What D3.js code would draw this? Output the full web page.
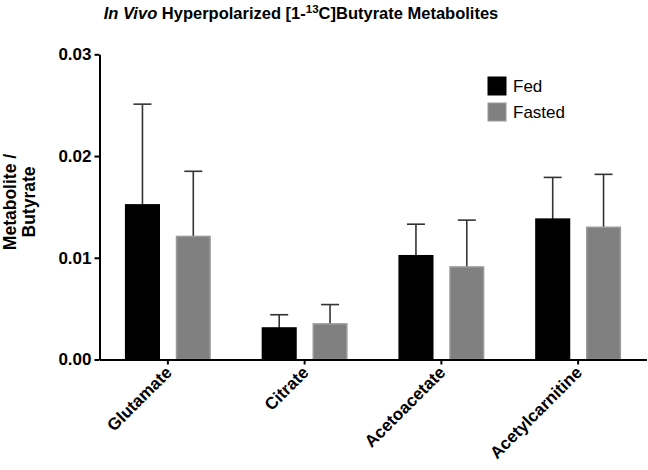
<!DOCTYPE html>
<html>
<head>
<meta charset="utf-8">
<script src="https://cdn.jsdelivr.net/npm/d3@7"></script>
<style>
  html, body { margin: 0; padding: 0; background: #fff; }
  svg { display: block; }
  text { font-family: "Liberation Sans", Arial, Helvetica, sans-serif; }
</style>
</head>
<body>
<svg id="chart" width="648" height="470"></svg>
<script>
const categories = ["Glutamate", "Citrate", "Acetoacetate", "Acetylcarnitine"];
const seriesNames = ["Fed", "Fasted"];
const fedValues = [0.0152, 0.0031, 0.0102, 0.0138];
const fedErrors = [0.0099, 0.0013, 0.0031, 0.0041];
const fastedValues = [0.0121, 0.0035, 0.0091, 0.0130];
const fastedErrors = [0.0064, 0.0019, 0.0046, 0.0052];
const yTicks = [0, 0.01, 0.02, 0.03];
const yTickLabels = ["0.00", "0.01", "0.02", "0.03"];

const colors = { Fed: "#000000", Fasted: "#808080" };
const strokes = { Fed: "#000000", Fasted: "#9a9a9a" };

const svg = d3.select("#chart");
const mLeft = 99.5, mRight = 646.5, mTop = 54.3, mBottom = 359.5;

const x0 = d3.scaleBand().domain(categories).range([mLeft, mRight]).padding(0);
const x1 = d3.scaleBand().domain(seriesNames).range([0, x0.bandwidth()])
  .paddingInner(0.31).paddingOuter(0.5);
const y = d3.scaleLinear().domain([0, 0.03]).range([mBottom, mTop]);

const data = [];
categories.forEach((c, i) => {
  data.push({ cat: c, s: "Fed", v: fedValues[i], e: fedErrors[i] });
  data.push({ cat: c, s: "Fasted", v: fastedValues[i], e: fastedErrors[i] });
});

// error bars (drawn behind bars)
const eb = svg.append("g");
data.forEach(d => {
  const cx = x0(d.cat) + x1(d.s) + x1.bandwidth() / 2;
  eb.append("line").attr("x1", cx).attr("x2", cx)
    .attr("y1", y(d.v)).attr("y2", y(d.v + d.e))
    .attr("stroke", "#333").attr("stroke-width", 1.6);
  eb.append("line").attr("x1", cx - 9).attr("x2", cx + 9)
    .attr("y1", y(d.v + d.e)).attr("y2", y(d.v + d.e))
    .attr("stroke", "#333").attr("stroke-width", 1.6);
});

// bars
svg.append("g").selectAll("rect").data(data).join("rect")
  .attr("x", d => x0(d.cat) + x1(d.s) + 0.75)
  .attr("y", d => y(d.v))
  .attr("width", x1.bandwidth() - 1.5)
  .attr("height", d => y(0) - y(d.v))
  .attr("fill", d => colors[d.s])
  .attr("stroke", d => strokes[d.s])
  .attr("stroke-width", 1.5);

// y axis
const yAxis = d3.axisLeft(y).tickValues(yTicks)
  .tickFormat((d, i) => yTickLabels[i]).tickSize(5).tickSizeOuter(0);
const gy = svg.append("g").attr("transform", `translate(${mLeft},0)`).call(yAxis);
gy.select(".domain").attr("stroke", "#000").attr("stroke-width", 2);
gy.selectAll(".tick line").attr("stroke", "#000").attr("stroke-width", 2);
gy.selectAll(".tick text").attr("font-size", 17).attr("font-weight", "bold")
  .attr("fill", "#000").attr("x", -8)
  .style("font-family", "'Liberation Sans', Arial, sans-serif");

// x axis
const xAxis = d3.axisBottom(x0).tickSize(5).tickSizeOuter(0);
const gx = svg.append("g").attr("transform", `translate(0,${mBottom})`).call(xAxis);
gx.select(".domain").attr("stroke", "#000").attr("stroke-width", 2);
gx.selectAll(".tick line").attr("stroke", "#000").attr("stroke-width", 2);
gx.selectAll(".tick text").attr("font-size", 17).attr("font-weight", "bold")
  .attr("fill", "#000")
  .style("font-family", "'Liberation Sans', Arial, sans-serif")
  .attr("text-anchor", "end")
  .attr("dy", null).attr("y", 0)
  .attr("transform", "translate(5,14) rotate(-45)");

// y axis title
const yl = svg.append("text")
  .attr("transform", "translate(0,202) rotate(-90)")
  .attr("text-anchor", "middle").attr("font-size", 17.5).attr("font-weight", "bold");
yl.append("tspan").attr("x", 0).attr("y", 16).text("Metabolite /");
yl.append("tspan").attr("x", 0).attr("y", 35).text("Butyrate");

// title
const t = svg.append("text").attr("x", 301).attr("y", 19)
  .attr("text-anchor", "middle").attr("font-size", 16.5).attr("font-weight", "bold");
t.append("tspan").attr("font-style", "italic").text("In Vivo");
t.append("tspan").text(" Hyperpolarized [1-");
t.append("tspan").attr("font-size", 11.5).attr("dy", -6).text("13");
t.append("tspan").attr("dy", 6).text("C]Butyrate Metabolites");

// legend
const lg = svg.append("g").attr("transform", "translate(488,77)");
seriesNames.forEach((s, i) => {
  lg.append("rect").attr("x", 0).attr("y", i * 26).attr("width", 18).attr("height", 18)
    .attr("fill", colors[s]).attr("stroke", strokes[s]).attr("stroke-width", 1);
  lg.append("text").attr("x", 25).attr("y", i * 26 + 15).attr("font-size", 17)
    .attr("fill", "#000").text(s);
});
</script>
</body>
</html>
